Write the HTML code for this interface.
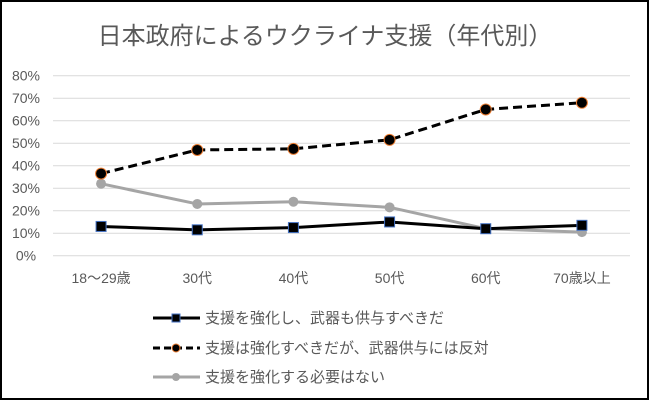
<!DOCTYPE html>
<html><head><meta charset="utf-8"><style>
body{margin:0;background:#fff}
svg text{font-family:"Liberation Sans","Noto Sans CJK JP",sans-serif;fill:#595959}
</style></head><body>
<svg width="650" height="401" xmlns="http://www.w3.org/2000/svg">
<rect x="1" y="1" width="647" height="398" fill="#fff" stroke="#000" stroke-width="2"/>
<text x="325" y="44" text-anchor="middle" font-size="24">日本政府によるウクライナ支援（年代別）</text>
<g id="grid"></g><g id="xl"></g><g id="series"></g>
<g>
 <g>
  <line x1="153" y1="318" x2="200" y2="318" stroke="#000" stroke-width="3"/>
  <rect x="172" y="314" width="8" height="8" fill="#000" stroke="#4472c4" stroke-width="1"/>
  <text x="205" y="323" font-size="15">支援を強化し、武器も供与すべきだ</text></g>
 <g>
  <line x1="153" y1="348" x2="200" y2="348" stroke="#000" stroke-width="3" stroke-dasharray="7,4"/>
  <circle cx="176" cy="348" r="4" fill="#000" stroke="#ed7d31" stroke-width="1"/>
  <text x="205" y="353" font-size="15">支援は強化すべきだが、武器供与には反対</text></g>
 <g>
  <line x1="153" y1="377" x2="200" y2="377" stroke="#a5a5a5" stroke-width="3"/>
  <circle cx="176" cy="377" r="4" fill="#a5a5a5"/>
  <text x="205" y="382" font-size="15">支援を強化する必要はない</text></g>
</g>
</svg>
<script>
const categories=["18〜29歳","30代","40代","50代","60代","70歳以上"];
const armsSupport=[13,11.5,12.5,15,12,13.5];
const noArms=[36.5,47,47.5,51.5,65,68];
const noNeed=[32,23,24,21.5,12,10.5];
const yTicks=[0,10,20,30,40,50,60,70,80];
const NS="http://www.w3.org/2000/svg";
const L=53,R=630,T=75.7,B=255.7;
const y=v=>B-(v/80)*(B-T);
const x=i=>L+(R-L)/categories.length*(i+0.5);
function mk(t,a,p){const e=document.createElementNS(NS,t);for(const k in a)e.setAttribute(k,a[k]);p.appendChild(e);return e;}
const grid=document.getElementById('grid');
yTicks.forEach(v=>{
 const g=mk('line',{x1:L,x2:R,y1:y(v),y2:y(v),stroke:'#d9d9d9','stroke-width':1},grid);
 
 
 const t=mk('text',{x:26,y:y(v)+5,'text-anchor':'middle','font-size':14},grid);t.textContent=v+'%';
 
 
});
const xl=document.getElementById('xl');
categories.forEach((c,i)=>{const t=mk('text',{x:x(i),y:283,'text-anchor':'middle','font-size':14},xl);t.textContent=c;
 
 });
const sg=document.getElementById('series');
function series(vals,name,stroke,dash,marker){
 const g=mk('g',{},sg);
 
 
 const pts=vals.map((v,i)=>x(i)+','+y(v)).join(' ');
 const l=mk('polyline',{points:pts,fill:'none',stroke:stroke,'stroke-width':3,'stroke-dasharray':dash,'stroke-linejoin':'round'},g);
 
 
 vals.forEach((v,i)=>{let m;
  if(marker==='sq')m=mk('rect',{x:x(i)-5,y:y(v)-5,width:10,height:10,fill:'#000',stroke:'#4472c4','stroke-width':1},g);
  else if(marker==='or')m=mk('circle',{cx:x(i),cy:y(v),r:5.5,fill:'#000',stroke:'#ed7d31','stroke-width':1},g);
  else m=mk('circle',{cx:x(i),cy:y(v),r:5,fill:'#a5a5a5'},g);
  
  
 });
}
series(noNeed,'series-no-need','#a5a5a5','none','gr');
series(armsSupport,'series-arms-support','#000','none','sq');
series(noArms,'series-no-arms','#000','9,5','or');
</script>
</body></html>
